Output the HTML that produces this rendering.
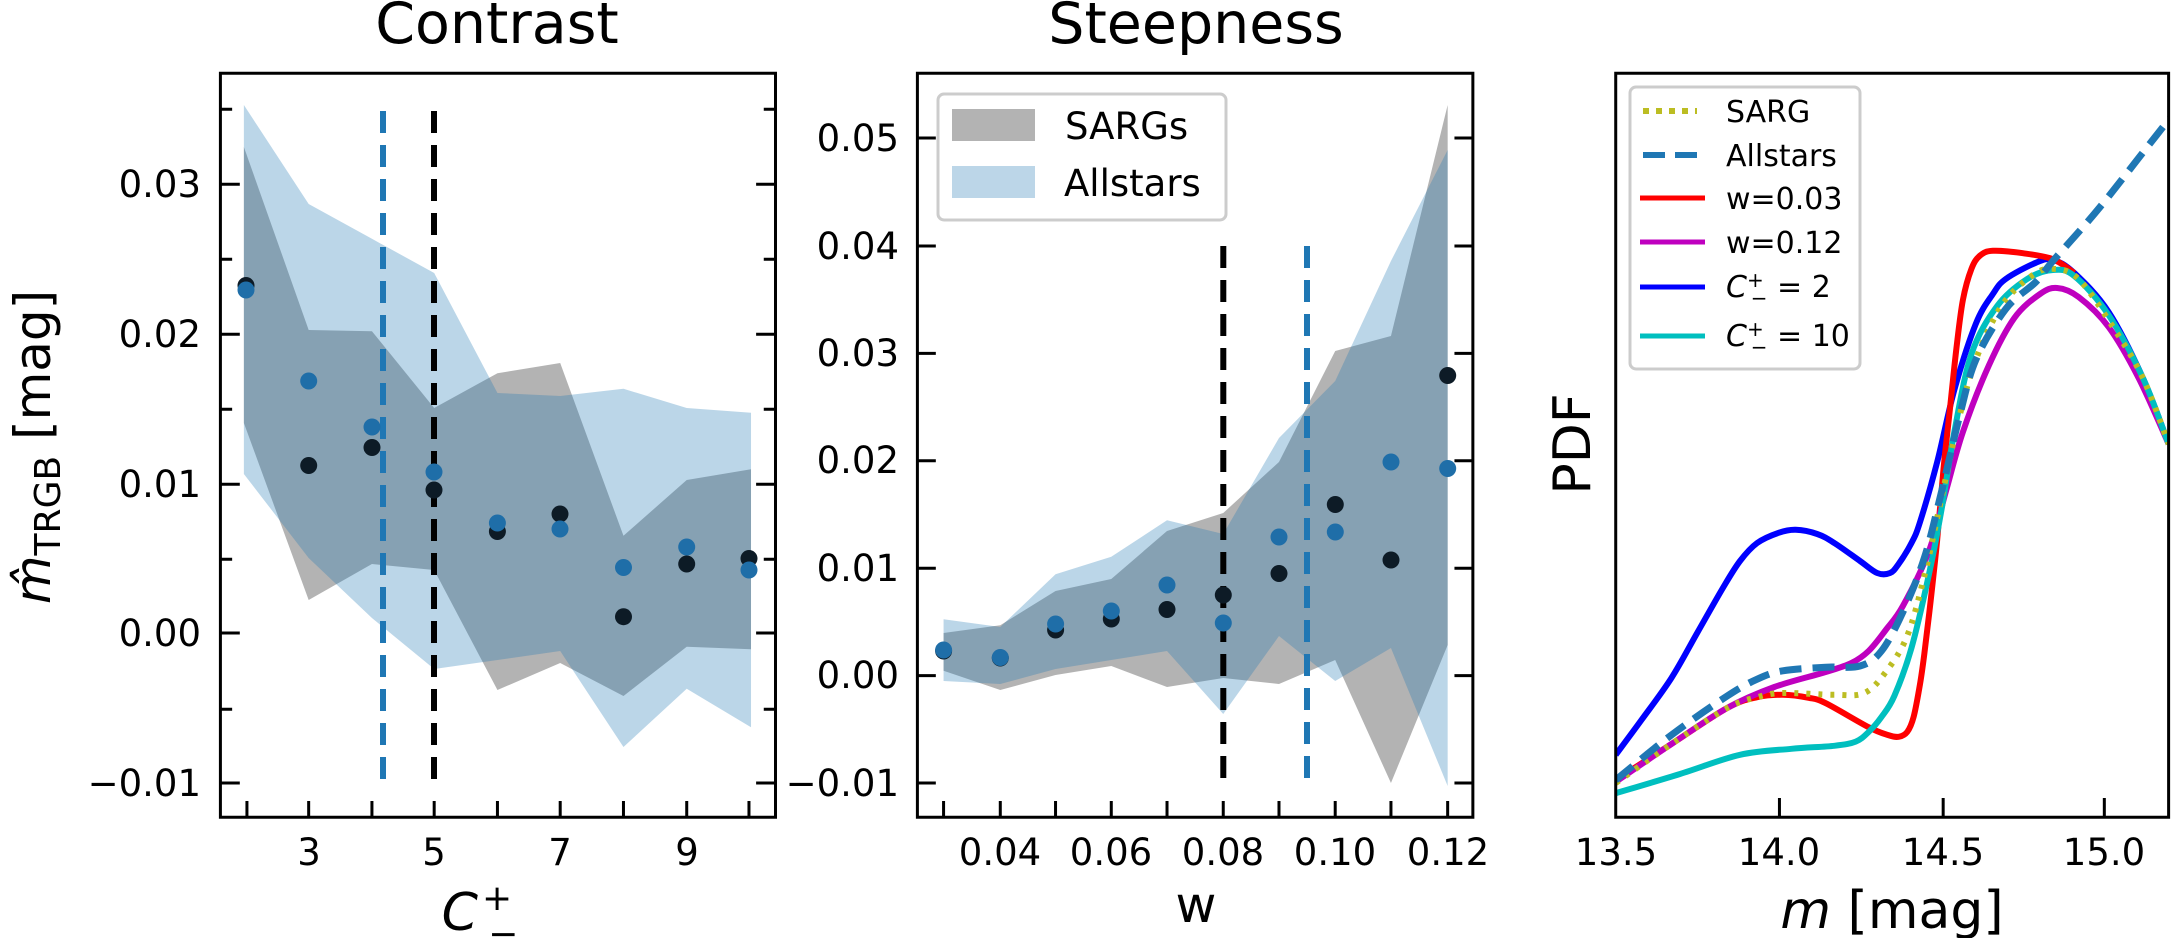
<!DOCTYPE html>
<html><head><meta charset="utf-8"><style>
html,body{margin:0;padding:0;background:#fff;}
svg{display:block;font-family:"DejaVu Sans","Liberation Sans",sans-serif;}
.ns{vector-effect:non-scaling-stroke;}
</style></head><body>
<svg width="2172" height="938" viewBox="0 0 2172 938" xmlns="http://www.w3.org/2000/svg">
<defs>
<clipPath id="c3"><rect x="1616" y="73" width="553" height="744"/></clipPath>
</defs>

<!-- Panel 1 -->
<g transform="matrix(0.5102 0 0 0.6 0 0)">
<polygon fill="#808080" fill-opacity="0.6" points="478,245 605,550 729,552 851,680 975,622 1098,605 1222,893 1346,800 1472,782 1472,1082 1346,1078 1222,1160 1098,1105 975,1150 851,950 729,940 605,1000 478,705"/>
<polygon fill="#1f77b4" fill-opacity="0.3" points="478,175 605,340 729,398 851,455 975,655 1098,660 1222,648 1346,680 1472,688 1472,1212 1346,1148 1222,1245 1098,1085 975,1100 851,1115 729,1030 605,930 478,790"/>
<path class="ns" stroke="#000" stroke-width="3" d="M432,307H470M432,557H470M432,807H470M432,1055H470M432,1305H470M432,182H455M432,432H455M432,682H455M432,932H455M432,1182H455M1520,307H1482M1520,557H1482M1520,807H1482M1520,1055H1482M1520,1305H1482M1520,182H1497M1520,432H1497M1520,682H1497M1520,932H1497M1520,1182H1497M484,1362V1335M605,1362V1335M729,1362V1335M851,1362V1335M975,1362V1335M1098,1362V1335M1222,1362V1335M1346,1362V1335M1468,1362V1335"/>
<rect x="432" y="122" width="1088" height="1240" fill="none" stroke="#000" stroke-width="3" class="ns"/>
</g>
<line x1="383" y1="111" x2="383" y2="783" stroke="#1f77b4" stroke-width="6" stroke-dasharray="22,12"/>
<line x1="434" y1="111" x2="434" y2="783" stroke="#000" stroke-width="6" stroke-dasharray="22,12"/>
<g fill="#0d1b26">
<circle cx="246" cy="285.5" r="8.5"/><circle cx="308.7" cy="465.5" r="8.5"/><circle cx="372" cy="447.5" r="8.5"/><circle cx="434" cy="490" r="8.5"/><circle cx="497.4" cy="531.5" r="8.5"/><circle cx="560" cy="514" r="8.5"/><circle cx="623.5" cy="616.7" r="8.5"/><circle cx="686.7" cy="564" r="8.5"/><circle cx="749" cy="558.5" r="8.5"/>
</g>
<g fill="#1f6ea8">
<circle cx="246" cy="290" r="8.5"/><circle cx="308.7" cy="381" r="8.5"/><circle cx="372" cy="427" r="8.5"/><circle cx="434" cy="472" r="8.5"/><circle cx="497.4" cy="523" r="8.5"/><circle cx="560" cy="529" r="8.5"/><circle cx="623.5" cy="567.5" r="8.5"/><circle cx="686.7" cy="547" r="8.5"/><circle cx="749" cy="570" r="8.5"/>
</g>
<g font-size="37" text-anchor="end">
<text x="201" y="197">0.03</text><text x="201" y="347">0.02</text><text x="201" y="497">0.01</text><text x="201" y="646">0.00</text><text x="201" y="796">−0.01</text>
</g>
<g font-size="37" text-anchor="middle">
<text x="309" y="865">3</text><text x="434" y="865">5</text><text x="560" y="865">7</text><text x="687" y="865">9</text>
</g>
<text x="497" y="43" font-size="57" text-anchor="middle">Contrast</text>
<text transform="translate(50,447) rotate(-90)" font-size="50" text-anchor="middle"><tspan font-style="italic">m̂</tspan><tspan font-size="36" dy="10">TRGB</tspan><tspan dy="-10"> [mag]</tspan></text>
<text x="480" y="930" font-size="52" text-anchor="middle"><tspan font-style="italic">C</tspan><tspan font-size="36" dx="4" dy="-20">+</tspan><tspan font-size="36" dx="-24" dy="36">−</tspan></text>

<!-- Panel 2 -->
<g transform="matrix(0.4847 0 0 0.6 740 0)">
<polygon fill="#808080" fill-opacity="0.6" points="420,1055 537,1042 651,985 766,965 881,885 997,855 1112,770 1228,585 1343,560 1460,175 1460,1075 1343,1305 1228,1100 1112,1140 997,1130 881,1145 766,1110 651,1125 537,1150 420,1118"/>
<polygon fill="#1f77b4" fill-opacity="0.3" points="420,1032 537,1045 651,957 766,928 881,867 997,890 1112,730 1228,635 1343,435 1460,250 1460,1310 1343,1080 1228,1135 1112,1060 997,1190 881,1085 766,1100 651,1115 537,1140 420,1135"/>
<path class="ns" stroke="#000" stroke-width="3" d="M366,230H404M366,410H404M366,589H404M366,768H404M366,947H404M366,1126H404M366,1305H404M1512,230H1474M1512,410H1474M1512,589H1474M1512,768H1474M1512,947H1474M1512,1126H1474M1512,1305H1474M420,1362V1335M537,1362V1335M651,1362V1335M766,1362V1335M881,1362V1335M997,1362V1335M1112,1362V1335M1228,1362V1335M1343,1362V1335M1460,1362V1335"/>
<rect x="366" y="122" width="1146" height="1240" fill="none" stroke="#000" stroke-width="3" class="ns"/>
</g>
<line x1="1223.3" y1="246" x2="1223.3" y2="783" stroke="#000" stroke-width="6" stroke-dasharray="22,12"/>
<line x1="1307" y1="246" x2="1307" y2="783" stroke="#1f77b4" stroke-width="6" stroke-dasharray="22,12"/>
<g fill="#0d1b26">
<circle cx="943.6" cy="651" r="8.5"/><circle cx="1000.3" cy="658" r="8.5"/><circle cx="1055.6" cy="630" r="8.5"/><circle cx="1111.3" cy="619" r="8.5"/><circle cx="1167" cy="609.5" r="8.5"/><circle cx="1223.3" cy="595" r="8.5"/><circle cx="1279" cy="573.5" r="8.5"/><circle cx="1335.3" cy="504.5" r="8.5"/><circle cx="1391" cy="560" r="8.5"/><circle cx="1447.7" cy="375.5" r="8.5"/>
</g>
<g fill="#1f6ea8">
<circle cx="943.6" cy="650" r="8.5"/><circle cx="1000.3" cy="657.5" r="8.5"/><circle cx="1055.6" cy="624" r="8.5"/><circle cx="1111.3" cy="611" r="8.5"/><circle cx="1167" cy="585" r="8.5"/><circle cx="1223.3" cy="623" r="8.5"/><circle cx="1279" cy="537" r="8.5"/><circle cx="1335.3" cy="532" r="8.5"/><circle cx="1391" cy="462" r="8.5"/><circle cx="1447.7" cy="468.5" r="8.5"/>
</g>
<rect x="938" y="94" width="288" height="126" rx="6" fill="#fff" fill-opacity="0.8" stroke="#ccc" stroke-width="3"/>
<rect x="952" y="109" width="83" height="32" fill="#b3b3b3"/>
<rect x="952" y="166" width="83" height="32" fill="#bcd6e8"/>
<text x="1065" y="139" font-size="37">SARGs</text>
<text x="1064" y="196" font-size="37">Allstars</text>
<g font-size="37" text-anchor="end">
<text x="899" y="151">0.05</text><text x="899" y="259">0.04</text><text x="899" y="366">0.03</text><text x="899" y="473">0.02</text><text x="899" y="581">0.01</text><text x="899" y="688">0.00</text><text x="899" y="796">−0.01</text>
</g>
<g font-size="37" text-anchor="middle">
<text x="1000" y="865">0.04</text><text x="1111" y="865">0.06</text><text x="1223" y="865">0.08</text><text x="1335" y="865">0.10</text><text x="1448" y="865">0.12</text>
</g>
<text x="1196" y="43" font-size="57" text-anchor="middle">Steepness</text>
<text x="1196" y="922" font-size="50" text-anchor="middle">w</text>

<!-- Panel 3 -->
<g clip-path="url(#c3)">
<g transform="matrix(0.4286 0 0 0.6 1500 0)" fill="none" stroke-linejoin="round">
<polyline class="ns sm" stroke="#0000ff" stroke-width="6" points="270,1258 330,1200 400,1130 460,1055 520,980 560,935 600,905 650,888 690,883 740,890 780,905 840,935 880,955 910,955 930,940 960,905 980,870 1020,770 1060,650 1110,540 1150,490 1180,465 1250,438 1290,433 1340,455 1420,520 1500,630 1560,740"/>
<polyline class="ns sm" stroke="#ff0000" stroke-width="6" points="270,1300 400,1240 530,1180 600,1162 660,1158 720,1163 760,1172 860,1212 905,1225 930,1228 950,1220 965,1195 980,1140 990,1090 1005,1000 1020,900 1035,780 1050,680 1065,580 1080,500 1100,448 1120,426 1150,418 1220,422 1290,432 1340,455"/>
<polyline class="ns sm" stroke="#bf00bf" stroke-width="6" points="270,1303 400,1240 530,1180 640,1145 760,1120 820,1105 860,1085 900,1050 940,1010 1000,920 1040,820 1080,720 1140,610 1200,530 1260,490 1300,480 1350,495 1420,545 1490,630 1560,740"/>
<polyline class="ns sm" stroke="#00bfbf" stroke-width="6" points="270,1322 420,1290 560,1258 680,1248 780,1243 830,1236 860,1220 890,1195 920,1160 960,1080 1000,960 1030,850 1060,720 1100,590 1160,510 1230,465 1290,450 1340,460 1420,525 1500,630 1560,740"/>
<polyline class="ns sm" stroke="#bcbd22" stroke-width="6" stroke-dasharray="4,8" points="270,1305 400,1240 530,1180 600,1162 660,1155 780,1158 850,1155 900,1120 950,1060 990,960 1030,830 1070,700 1110,600 1170,510 1240,460 1290,448 1350,465 1430,545 1500,630 1560,740"/>
<polyline class="ns sm" stroke="#1f77b4" stroke-width="7" stroke-dasharray="22,11" points="270,1300 400,1225 530,1160 600,1132 660,1118 760,1112 840,1110 890,1085 940,1020 990,930 1030,820 1070,700 1110,600 1180,515 1250,470 1290,435 1400,345 1560,200 1700,80"/>
</g>
</g>
<g transform="matrix(0.4286 0 0 0.6 1500 0)">
<path class="ns" stroke="#000" stroke-width="3" d="M652,1362V1330M1034,1362V1330M1410,1362V1330"/>
<rect x="270" y="122" width="1290" height="1240" fill="none" stroke="#000" stroke-width="3" class="ns"/>
</g>
<rect x="1630" y="87" width="230" height="282" rx="6" fill="#fff" fill-opacity="0.8" stroke="#ccc" stroke-width="3"/>
<line x1="1643" y1="111" x2="1697" y2="111" stroke="#bcbd22" stroke-width="6" stroke-dasharray="6,7"/>
<line x1="1643" y1="155" x2="1700" y2="155" stroke="#1f77b4" stroke-width="6" stroke-dasharray="22,10"/>
<line x1="1640" y1="198" x2="1705" y2="198" stroke="#ff0000" stroke-width="5"/>
<line x1="1640" y1="242" x2="1705" y2="242" stroke="#bf00bf" stroke-width="5"/>
<line x1="1640" y1="287" x2="1705" y2="287" stroke="#0000ff" stroke-width="5"/>
<line x1="1640" y1="336" x2="1705" y2="336" stroke="#00bfbf" stroke-width="5"/>
<g font-size="30">
<text x="1726" y="122">SARG</text>
<text x="1726" y="166">Allstars</text>
<text x="1726" y="209">w=0.03</text>
<text x="1726" y="253">w=0.12</text>
<text x="1726" y="297"><tspan font-style="italic">C</tspan><tspan font-size="20" dy="-10">+</tspan><tspan font-size="20" dx="-13" dy="18">−</tspan><tspan dy="-8"> = 2</tspan></text>
<text x="1726" y="346"><tspan font-style="italic">C</tspan><tspan font-size="20" dy="-10">+</tspan><tspan font-size="20" dx="-13" dy="18">−</tspan><tspan dy="-8"> = 10</tspan></text>
</g>
<g font-size="37" text-anchor="middle">
<text x="1616" y="865">13.5</text><text x="1779" y="865">14.0</text><text x="1943" y="865">14.5</text><text x="2104" y="865">15.0</text>
</g>
<text transform="translate(1590,444) rotate(-90)" font-size="52" text-anchor="middle">PDF</text>
<text x="1892" y="928" font-size="52" text-anchor="middle"><tspan font-style="italic">m</tspan> [mag]</text>
</svg>
<script>
document.querySelectorAll('polyline.sm').forEach(function(pl){
  var pts=pl.getAttribute('points').trim().split(/\s+/).map(function(s){return s.split(',').map(Number);});
  var d='M'+pts[0][0]+','+pts[0][1];
  for(var i=0;i<pts.length-1;i++){
    var p0=pts[i>0?i-1:i],p1=pts[i],p2=pts[i+1],p3=pts[i+2<pts.length?i+2:i+1];
    var c1x=p1[0]+(p2[0]-p0[0])/6,c1y=p1[1]+(p2[1]-p0[1])/6;
    var c2x=p2[0]-(p3[0]-p1[0])/6,c2y=p2[1]-(p3[1]-p1[1])/6;
    d+=' C'+c1x+','+c1y+' '+c2x+','+c2y+' '+p2[0]+','+p2[1];
  }
  var p=document.createElementNS('http://www.w3.org/2000/svg','path');
  ['stroke','stroke-width','stroke-dasharray','class'].forEach(function(a){if(pl.getAttribute(a))p.setAttribute(a,pl.getAttribute(a));});
  p.setAttribute('d',d);p.setAttribute('fill','none');
  pl.parentNode.replaceChild(p,pl);
});
</script>
</body></html>
